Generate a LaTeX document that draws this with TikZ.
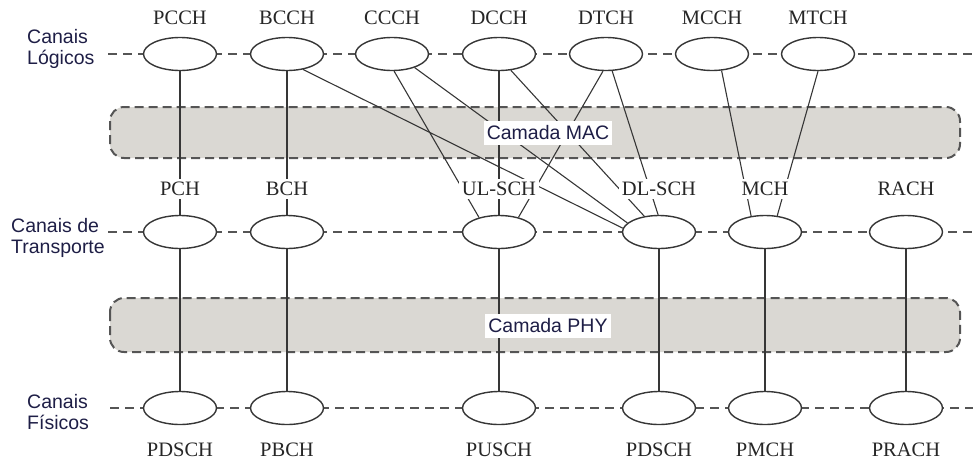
\documentclass[tikz,border=0pt]{standalone}
\usepackage{fontspec}
\setmainfont{Liberation Serif}
\setsansfont{Liberation Sans}
\usetikzlibrary{shapes.geometric, positioning}
\definecolor{chLine}{HTML}{363636}
\definecolor{chDash}{HTML}{555555}
\definecolor{chBand}{HTML}{DAD8D3}
\definecolor{chText}{HTML}{1E1E46}

\begin{document}
\begin{tikzpicture}[x=1pt, y=-1pt,
  ch/.style={ellipse, draw=chLine, line width=1.4pt, fill=white,
    minimum width=73pt, minimum height=33pt, inner sep=0pt},
  lbl/.style={font=\fontsize{20.5}{22}\selectfont, text=black!85, fill=white,
    inner sep=3pt},
  grp/.style={font=\sffamily\fontsize{19.5}{21}\selectfont, text=chText,
    align=left, inner sep=0pt, anchor=west},
  lay/.style={font=\sffamily\fontsize{19.5}{21}\selectfont, text=chText,
    fill=white, inner xsep=3pt, inner ysep=4.5pt},
  band/.style={draw=chDash, fill=chBand, dash pattern=on 9pt off 5pt,
    line width=2pt, rounded corners=14pt},
  rule/.style={draw=chDash, dash pattern=on 9pt off 6pt, line width=2.2pt},
  link/.style={draw=chLine, line width=1.1pt}]
  \useasboundingbox (0,0) rectangle (973,461);

  \draw[band] (110,107) rectangle (960,158);
  \draw[band] (110,298) rectangle (960,352);

  \coordinate (l1) at (108,54);  \coordinate (r1) at (973,54);
  \coordinate (l2) at (108,232); \coordinate (r2) at (973,232);
  \coordinate (l3) at (110,408); \coordinate (r3) at (973,408);
  \draw[rule] (l1) -- (r1);
  \draw[rule] (l2) -- (r2);
  \draw[rule] (l3) -- (r3);

  \node[ch] (pcch) at (180,54) {};
  \node[ch] (bcch) at (287,54) {};
  \node[ch] (ccch) at (392,54) {};
  \node[ch] (dcch) at (499,54) {};
  \node[ch] (dtch) at (606,54) {};
  \node[ch] (mcch) at (712,54) {};
  \node[ch] (mtch) at (818,54) {};

  \node[ch] (pch) at (180,232) {};
  \node[ch] (bch) at (287,232) {};
  \node[ch] (ulsch) at (499,232) {};
  \node[ch] (dlsch) at (659,232) {};
  \node[ch] (mch) at (765,232) {};
  \node[ch] (rach) at (906,232) {};

  \node[ch] (pdschA) at (180,408) {};
  \node[ch] (pbch) at (287,408) {};
  \node[ch] (pusch) at (499,408) {};
  \node[ch] (pdschB) at (659,408) {};
  \node[ch] (pmch) at (765,408) {};
  \node[ch] (prach) at (906,408) {};

  \draw[link] (pcch) -- (pch);
  \draw[link] (bcch) -- (bch);
  \draw[link] (bcch.-44) -- (dlsch.174);
  \draw[link] (ccch.-83) -- (ulsch.144);
  \draw[link] (ccch.-31) -- (dlsch.164);
  \draw[link] (dcch) -- (ulsch);
  \draw[link] (dcch.-54) -- (dlsch.133);
  \draw[link] (dtch.-100) -- (ulsch.37);
  \draw[link] (dtch.-70) -- (dlsch.93);
  \draw[link] (mcch.-60) -- (mch.131);
  \draw[link] (mtch.-90) -- (mch.53);

  \draw[link] (pch) -- (pdschA);
  \draw[link] (bch) -- (pbch);
  \draw[link] (ulsch) -- (pusch);
  \draw[link] (dlsch) -- (pdschB);
  \draw[link] (mch) -- (pmch);
  \draw[link] (rach) -- (prach);

  \node[lbl, above=9pt of pcch] (tPCCH) {PCCH};
  \node[lbl, above=9pt of bcch] (tBCCH) {BCCH};
  \node[lbl, above=9pt of ccch] (tCCCH) {CCCH};
  \node[lbl, above=9pt of dcch] (tDCCH) {DCCH};
  \node[lbl, above=9pt of dtch] (tDTCH) {DTCH};
  \node[lbl, above=9pt of mcch] (tMCCH) {MCCH};
  \node[lbl, above=9pt of mtch] (tMTCH) {MTCH};

  \node[lbl, above=16pt of pch] (tPCH) {PCH};
  \node[lbl, above=16pt of bch] (tBCH) {BCH};
  \node[lbl, above=16pt of ulsch] (tULSCH) {UL-SCH};
  \node[lbl, above=16pt of dlsch] (tDLSCH) {DL-SCH};
  \node[lbl, above=16pt of mch] (tMCH) {MCH};
  \node[lbl, above=16pt of rach] (tRACH) {RACH};

  \node[lbl, below=15pt of pdschA] (tPDSCHA) {PDSCH};
  \node[lbl, below=15pt of pbch] (tPBCH) {PBCH};
  \node[lbl, below=15pt of pusch] (tPUSCH) {PUSCH};
  \node[lbl, below=15pt of pdschB] (tPDSCHB) {PDSCH};
  \node[lbl, below=15pt of pmch] (tPMCH) {PMCH};
  \node[lbl, below=15pt of prach] (tPRACH) {PRACH};

  \node[grp] (logic) at (27,48.5) {Canais\\Lógicos};
  \node[grp] (trans) at (11,237.5) {Canais de\\Transporte};
  \node[grp] (phys) at (27,412) {Canais\\Físicos};

  \node[lay] (mac) at (548,133) {Camada MAC};
  \node[lay] (phy) at (548,326) {Camada PHY};
\end{tikzpicture}
\end{document}
